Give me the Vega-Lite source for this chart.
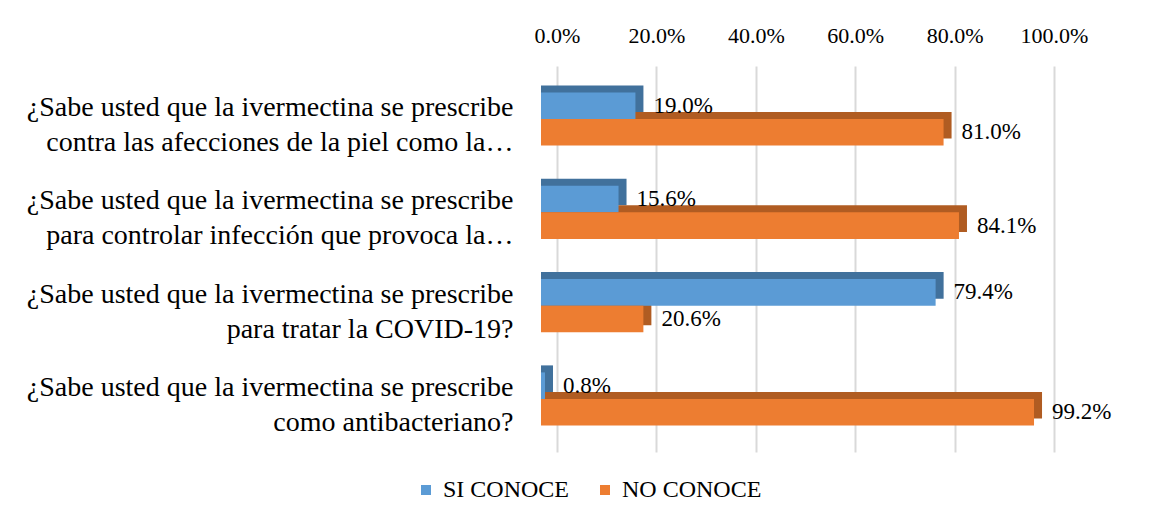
{
  "$schema": "https://vega.github.io/schema/vega-lite/v6.json",
  "width": 497,
  "height": 386,
  "autosize": {"type": "none"},
  "padding": {"left": 557, "top": 66, "right": 96, "bottom": 70},
  "background": "white",
  "config": {"font": "Liberation Serif", "view": {"stroke": null}},
  "data": {
    "values": [
      {"q": "¿Sabe usted que la ivermectina se prescribe|contra las afecciones de la piel como la…", "serie": "SI CONOCE", "value": 0.19},
      {"q": "¿Sabe usted que la ivermectina se prescribe|contra las afecciones de la piel como la…", "serie": "NO CONOCE", "value": 0.81},
      {"q": "¿Sabe usted que la ivermectina se prescribe|para controlar infección que provoca la…", "serie": "SI CONOCE", "value": 0.156},
      {"q": "¿Sabe usted que la ivermectina se prescribe|para controlar infección que provoca la…", "serie": "NO CONOCE", "value": 0.841},
      {"q": "¿Sabe usted que la ivermectina se prescribe|para tratar la COVID-19?", "serie": "SI CONOCE", "value": 0.794},
      {"q": "¿Sabe usted que la ivermectina se prescribe|para tratar la COVID-19?", "serie": "NO CONOCE", "value": 0.206},
      {"q": "¿Sabe usted que la ivermectina se prescribe|como antibacteriano?", "serie": "SI CONOCE", "value": 0.008},
      {"q": "¿Sabe usted que la ivermectina se prescribe|como antibacteriano?", "serie": "NO CONOCE", "value": 0.992}
    ]
  },
  "encoding": {
    "y": {
      "field": "q",
      "type": "nominal",
      "sort": null,
      "title": null,
      "scale": {"paddingInner": 0.43, "paddingOuter": 0.283},
      "axis": {
        "labelExpr": "split(datum.label, '|')",
        "labelFontSize": 28,
        "labelLineHeight": 35,
        "labelLimit": 700,
        "labelPadding": 44,
        "labelOffset": -11,
        "labelColor": "#000000",
        "ticks": false,
        "domain": false,
        "grid": false
      }
    },
    "x": {
      "field": "value",
      "type": "quantitative",
      "title": null,
      "scale": {"domain": [0, 1], "nice": false},
      "axis": {
        "orient": "top",
        "format": ".1%",
        "values": [0, 0.2, 0.4, 0.6, 0.8, 1],
        "labelFontSize": 22,
        "labelColor": "#000000",
        "labelPadding": 19,
        "labelFlush": false,
        "ticks": false,
        "domain": false,
        "grid": true,
        "gridColor": "#d9d9d9",
        "gridWidth": 2
      }
    }
  },
  "layer": [
    {
      "transform": [{"filter": "datum.serie === 'SI CONOCE'"}],
      "mark": {"type": "bar", "height": {"band": 0.5}, "xOffset": -8, "x2Offset": -16, "yOffset": -20.3, "y2Offset": -20.3, "color": "#41719c"},
      "encoding": {"x2": {"datum": 0}}
    },
    {
      "transform": [{"filter": "datum.serie === 'NO CONOCE'"}],
      "mark": {"type": "bar", "height": {"band": 0.5}, "xOffset": -8, "x2Offset": -16, "yOffset": 6.3, "y2Offset": 6.3, "color": "#b05c22"},
      "encoding": {"x2": {"datum": 0}}
    },
    {
      "mark": {"type": "bar", "xOffset": -16, "x2Offset": -16},
      "encoding": {
        "yOffset": {"field": "serie", "type": "nominal", "sort": ["SI CONOCE", "NO CONOCE"]},
        "color": {
          "field": "serie",
          "type": "nominal",
          "sort": ["SI CONOCE", "NO CONOCE"],
          "scale": {"domain": ["SI CONOCE", "NO CONOCE"], "range": ["#5b9bd5", "#ed7d31"]},
          "legend": {
            "title": null,
            "orient": "none",
            "direction": "horizontal",
            "legendX": -143,
            "legendY": 412,
            "symbolType": "square",
            "symbolSize": 100,
            "symbolStrokeWidth": 0,
            "labelFontSize": 24,
            "labelColor": "#000000",
            "columnPadding": 23,
            "labelOffset": 5
          }
        }
      }
    },
    {
      "mark": {"type": "text", "align": "left", "baseline": "middle", "dx": 2, "fontSize": 23, "color": "#000000"},
      "encoding": {
        "yOffset": {"field": "serie", "type": "nominal", "sort": ["SI CONOCE", "NO CONOCE"]},
        "text": {"field": "value", "type": "quantitative", "format": ".1%"}
      }
    }
  ]
}
